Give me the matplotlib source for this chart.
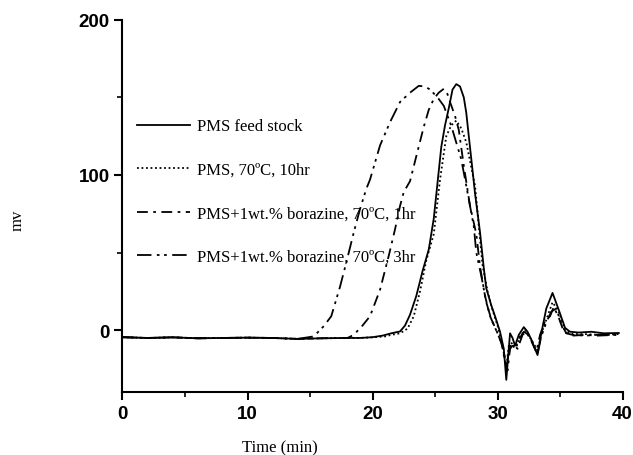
import matplotlib.pyplot as plt
from matplotlib.ticker import MultipleLocator

# baseline shared by all runs before they start rising
base_t = [0, 2, 4, 6, 8, 10, 12, 14]
base_mv = [-4.5, -5.0, -4.6, -5.2, -5.0, -4.8, -5.0, -5.6]

feed_t = base_t + [16, 18, 19, 20, 20.8, 21.5, 22.2, 22.6, 23, 23.5, 24, 24.5, 24.9, 25.2, 25.5, 25.8,
                   26.1, 26.4, 26.7, 27, 27.3, 27.5, 27.7, 28, 28.2, 28.6, 28.9, 29.1, 29.5, 29.8,
                   30.2, 30.5, 30.7, 30.9, 31.0, 31.2, 31.4, 31.7, 32.1, 32.4, 32.7, 33.0, 33.2,
                   33.5, 33.9, 34.4, 34.9, 35.4, 35.8, 36.5, 37.5, 38.5, 39.7]
feed_mv = base_mv + [-5.2, -5.0, -5.0, -4.5, -3.5, -2.0, -0.8, 3, 10, 22, 38, 52, 72, 95, 118, 132,
                     143, 155, 158.5, 157, 150, 140, 125, 103, 88, 63, 40, 27, 16, 9,
                     -1, -12, -32, -12, -2, -5, -10, -3, 2, -1, -6, -12, -16,
                     -2, 14, 24, 13, 1.5, -1, -1.5, -1, -2, -1.8]

h10_t = base_t + [16, 18, 19, 20, 21, 21.5, 22.2, 22.8, 23.3, 23.8, 24.3, 24.9, 25.4, 25.9, 26.3,
                  26.7, 27.1, 27.5, 27.9, 28.2, 28.5, 28.8, 29.2, 29.6, 30.0, 30.4, 30.7, 30.9,
                  31.2, 31.5, 31.8, 32.2, 32.7, 33.2, 33.6, 34.0, 34.4, 34.9, 35.4, 36, 37, 38, 39.7]
h10_mv = base_mv + [-5.2, -5.0, -5.0, -4.6, -4.0, -3.0, -2.0, 1, 9, 25, 45, 62, 97, 125, 132,
                    135, 130, 121, 105, 93, 67, 42, 25, 13, 3, -10, -24, -10,
                    -8, -11, -4, 0, -6, -13, 0, 9, 18, 12, 0, -2.5, -2.5, -3, -2.5]

b1_t = base_t + [16, 17, 18, 18.5, 19.2, 19.8, 20.6, 21.3, 21.8, 22.2, 22.5, 23, 23.5, 24.1, 24.5,
                 24.9, 25.3, 25.7, 26.0, 26.2, 26.6, 26.9, 27.3, 27.8, 28.3, 28.6, 29.0, 29.4,
                 29.9, 30.3, 30.6, 30.8, 31.0, 31.3, 31.6, 32.0, 32.3, 32.7, 33.1, 33.4, 33.8,
                 34.2, 34.5, 34.9, 35.3, 36, 37, 38, 39.5]
b1_mv = base_mv + [-5.2, -5.0, -5.0, -3, 3, 9, 26, 48, 65, 80, 89, 96, 112, 131, 142,
                   149, 153, 155.5, 152, 147, 138, 129, 106, 80, 62, 41, 22, 9,
                   0, -8, -20, -26, -12, -9, -12, -3, -1, -7, -14, -3, 6,
                   9, 15, 8, -1, -3.5, -3, -3.5, -3]

b3_t = base_t + [15.3, 16.1, 16.7, 17.4, 17.9, 18.5, 19, 19.5, 19.8, 20.6, 21.4, 22.2, 23.0, 23.7,
                 24.2, 24.6, 25.2, 25.7, 26.3, 27.1, 27.5, 28.1, 28.3, 28.7, 29.1, 29.5, 30.0,
                 30.4, 30.7, 30.9, 31.1, 31.4, 31.7, 32.1, 32.5, 32.9, 33.2, 33.5, 33.9, 34.3,
                 34.7, 35.1, 35.5, 36, 37, 38, 39.5]
b3_mv = base_mv + [-4, 2.6, 9, 28, 43.5, 63, 78, 91, 97, 119, 134, 147, 153, 157.4,
                   157, 155, 150, 144.5, 131.6, 110, 93, 67, 50, 35, 18, 7, -2,
                   -10, -22, -15, -8, -12, -6, -1, -3, -10, -15, -4, 5, 12,
                   14, 4, -2, -3, -3.5, -3, -3]

labels = ["PMS feed stock", "PMS, 70\u00baC, 10hr",
          "PMS+1wt.% borazine, 70\u00baC, 1hr", "PMS+1wt.% borazine, 70\u00baC, 3hr"]

serif = "Liberation Serif"
sans = "Liberation Sans"

fig = plt.figure(figsize=(6.33, 4.56), dpi=100)
ax = fig.add_axes([0.1935, 0.1375, 0.79, 0.8171])

lw = 1.3
ax.plot(feed_t, feed_mv, color="black", lw=lw, ls="-", label=labels[0])
ax.plot(h10_t, h10_mv, color="black", lw=lw, ls=(0, (1, 1.5)), label=labels[1])
ax.plot(b1_t, b1_mv, color="black", lw=lw, ls=(0, (6, 3, 1.5, 3)), label=labels[2])
ax.plot(b3_t, b3_mv, color="black", lw=lw, ls=(0, (8, 3, 1.5, 2.5, 1.5, 3)), label=labels[3])

ax.set_xlim(0, 40)
ax.set_ylim(-40, 200)
ax.xaxis.set_major_locator(MultipleLocator(10))
ax.xaxis.set_minor_locator(MultipleLocator(5))
ax.yaxis.set_major_locator(MultipleLocator(100))
ax.yaxis.set_minor_locator(MultipleLocator(50))
ax.spines["top"].set_visible(False)
ax.spines["right"].set_visible(False)
for s in ("left", "bottom"):
    ax.spines[s].set_linewidth(1.5)
ax.tick_params(which="major", direction="out", length=6, width=1.5, pad=3)
ax.tick_params(which="minor", direction="out", length=3.5, width=1.2)
for lab in ax.get_xticklabels() + ax.get_yticklabels():
    lab.set_fontfamily(sans)
    lab.set_fontweight("bold")
    lab.set_fontsize(13.5)

leg = ax.legend(loc="upper left", bbox_to_anchor=(0.029, 0.735), frameon=False,
                prop={"family": serif, "size": 12}, handlelength=3.2, handletextpad=0.4,
                labelspacing=1.65, borderpad=0, borderaxespad=0)

fig.text(18 / 633, 1 - 220 / 456, "mv", rotation=90, ha="center", va="center",
         family=serif, fontsize=12)
fig.text(280 / 633, 1 - 448 / 456, "Time (min)", ha="center", va="center",
         family=serif, fontsize=12)

plt.savefig("out.png", dpi=100)
